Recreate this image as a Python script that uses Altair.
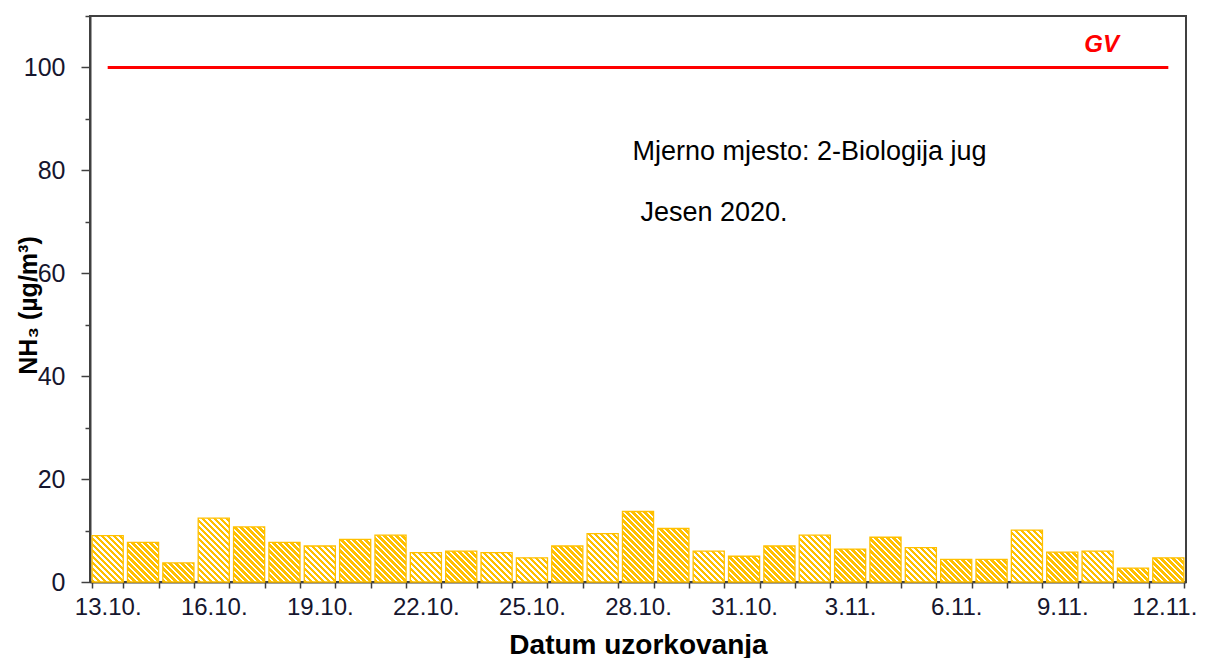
import json
import altair as alt

# ---------------- data ----------------
dates = ["13.10.", "14.10.", "15.10.", "16.10.", "17.10.", "18.10.", "19.10.",
         "20.10.", "21.10.", "22.10.", "23.10.", "24.10.", "25.10.", "26.10.",
         "27.10.", "28.10.", "29.10.", "30.10.", "31.10.", "1.11.", "2.11.",
         "3.11.", "4.11.", "5.11.", "6.11.", "7.11.", "8.11.", "9.11.",
         "10.11.", "11.11.", "12.11."]
nh3 = [9.0, 7.7, 3.7, 12.4, 10.7, 7.7, 7.0,
       8.3, 9.1, 5.7, 6.0, 5.7, 4.7, 7.0,
       9.4, 13.7, 10.4, 6.0, 5.0, 7.0, 9.1,
       6.4, 8.7, 6.7, 4.4, 4.4, 10.1, 5.8,
       6.0, 2.7, 4.7]
y_ticks = [0, 10, 20, 30, 40, 50, 60, 70, 80, 90, 100, 110]
gv_value = 100
gv_label = "GV"
site_text = "Mjerno mjesto: 2-Biologija jug"
season_text = "Jesen 2020."
x_title = "Datum uzorkovanja"
y_title = "NH\u2083 (\u00b5g/m\u00b3)"

# ---------------- style ----------------
Y_MAX = 110
PLOT_W, PLOT_H = 1096, 566
PAD_IN, PAD_OUT = 0.12, 0.06
BAR_COLOR = "#FFC000"
AXIS_COLOR = "#404040"
TEXT_COLOR = "#16162e"
FONT = "Liberation Sans"

step = PLOT_W / (len(dates) - PAD_IN + 2 * PAD_OUT)
bar_w = step * (1 - PAD_IN)


def hatch(value, period=6.0, frac=0.6):
    """Diagonal stripe fill (45 deg) emulated with a hard-stop linear gradient."""
    h = max(value * PLOT_H / Y_MAX, 1.0)
    w = bar_w
    k = (w + h) / (w * w + h * h)
    n = (w + h) / period
    stops = []
    i = 0
    while i < n:
        a = i / n
        b = min((i + frac) / n, 1.0)
        c = min((i + 1) / n, 1.0)
        stops += [{"offset": a, "color": BAR_COLOR}, {"offset": b, "color": BAR_COLOR}]
        if b < 1.0:
            stops += [{"offset": b, "color": "#ffffff"}, {"offset": c, "color": "#ffffff"}]
        i += 1
    return {"gradient": "linear", "x1": 0, "y1": 1, "x2": k * w, "y2": 1 - k * h,
            "stops": stops}


bar_records = [{"date": d, "value": v, "hatch": hatch(v)} for d, v in zip(dates, nh3)]

x_scale = alt.Scale(domain=dates, paddingInner=PAD_IN, paddingOuter=PAD_OUT)
y_scale = alt.Scale(domain=[0, Y_MAX], nice=False)

label_expr_x = "indexof(" + json.dumps(dates) + ", datum.value) % 3 === 0 ? datum.label : ''"

x_axis = alt.Axis(
    title=x_title, labelAngle=0, labelExpr=label_expr_x, tickBand="extent",
    labelOverlap=False, labelFlush=False, labelFontSize=24, labelColor=TEXT_COLOR,
    labelOffset={"condition": {"test": "datum.value === '12.11.'", "value": -4}, "value": 0},
    labelPadding=7, tickSize=6, titleFontSize=28, titleFontWeight="bold",
    titleColor="#000000", titlePadding=12,
)
y_axis = alt.Axis(
    title=y_title, values=y_ticks,
    labelExpr="datum.value % 20 === 0 && datum.value <= 100 ? datum.label : ''",
    tickSize={"condition": {"test": "datum.value % 20 === 0 && datum.value <= 100", "value": 9},
              "value": 5},
    labelFontSize=25, labelColor=TEXT_COLOR, labelPadding=16,
    titleFontSize=25, titleFontWeight="bold", titleColor="#000000",
    titleAngle=-90, titleX=-62, titleY=289, titleAlign="center", titleBaseline="middle",
)

bars = alt.Chart(alt.Data(values=bar_records)).mark_bar(
    stroke=BAR_COLOR, strokeWidth=1.3
).encode(
    x=alt.X("date:N", scale=x_scale, axis=x_axis),
    y=alt.Y("value:Q", scale=y_scale, axis=y_axis),
    fill=alt.Fill("hatch:N", scale=None, legend=None),
)

gv_line = alt.Chart(alt.Data(values=[{"date": dates[0], "v": gv_value},
                                     {"date": dates[-1], "v": gv_value}])).mark_line(
    color="#FF0000", strokeWidth=3
).encode(
    x=alt.X("date:N", scale=x_scale),
    y=alt.Y("v:Q", scale=y_scale),
)

gv_text = alt.Chart(alt.Data(values=[{"date": "10.11.", "v": 104.4, "t": gv_label}])).mark_text(
    color="#FF0000", fontSize=24, fontWeight="bold", fontStyle="italic", font=FONT,
    align="center", baseline="middle", dx=4
).encode(
    x=alt.X("date:N", scale=x_scale), y=alt.Y("v:Q", scale=y_scale), text="t:N"
)

notes = alt.Chart(alt.Data(values=[
    {"date": "28.10.", "v": 83.6, "t": site_text, "dx": 10},
    {"date": "28.10.", "v": 71.7, "t": season_text, "dx": 18},
])).mark_text(
    color="#000000", fontSize=27, font=FONT, align="left", baseline="middle"
).encode(
    x=alt.X("date:N", scale=x_scale), y=alt.Y("v:Q", scale=y_scale), text="t:N",
    xOffset=alt.XOffset("dx:Q", scale=None),
)

chart = alt.layer(bars, gv_line, gv_text, notes).properties(
    width=PLOT_W, height=PLOT_H,
    autosize=alt.AutoSizeParams(type="none"),
    padding={"left": 82, "top": 8, "right": 12, "bottom": 76},
).configure_view(
    stroke=AXIS_COLOR, strokeWidth=2
).configure_axis(
    grid=False, domainColor=AXIS_COLOR, domainWidth=2, tickColor=AXIS_COLOR,
    tickWidth=1.5, labelFont=FONT, titleFont=FONT,
).configure_text(font=FONT)

chart.save("out.html", embed_options={"renderer": "svg", "actions": False})
